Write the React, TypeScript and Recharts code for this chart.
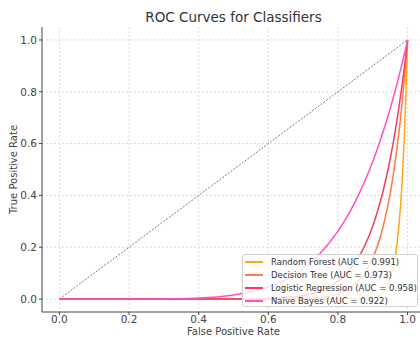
import React from 'react';
import { LineChart, Line, XAxis, YAxis, CartesianGrid, ReferenceLine, Label } from 'recharts';

const fpr = [0, 0.1, 0.2, 0.3, 0.4, 0.5, 0.55, 0.6, 0.65, 0.7, 0.75, 0.8, 0.825, 0.85, 0.875, 0.9, 0.92, 0.94, 0.95, 0.96, 0.97, 0.98, 0.985, 0.99, 0.995, 1];
const rfTpr = [0, 0, 0, 0, 0, 0, 0, 0, 0, 0, 0, 0, 0, 0.0003, 0.001, 0.005, 0.015, 0.045, 0.077, 0.13, 0.218, 0.364, 0.47, 0.605, 0.78, 1];
const dtTpr = [0, 0, 0, 0, 0, 0, 0, 0.0001, 0.0005, 0.002, 0.006, 0.02, 0.035, 0.058, 0.097, 0.158, 0.232, 0.339, 0.407, 0.49, 0.587, 0.702, 0.768, 0.838, 0.916, 1];
const lrTpr = [0, 0, 0, 0, 0, 0.0002, 0.0008, 0.002, 0.006, 0.014, 0.032, 0.069, 0.1, 0.142, 0.2, 0.282, 0.368, 0.476, 0.54, 0.613, 0.694, 0.785, 0.834, 0.886, 0.942, 1];
const nbTpr = [0, 0, 0, 0.001, 0.004, 0.016, 0.028, 0.047, 0.075, 0.118, 0.178, 0.262, 0.315, 0.377, 0.449, 0.531, 0.606, 0.69, 0.735, 0.783, 0.833, 0.886, 0.913, 0.941, 0.97, 1];

const seriesNames = ['Random Forest', 'Decision Tree', 'Logistic Regression', 'Naive Bayes'];
const seriesKeys = ['rf', 'dt', 'lr', 'nb'];
const aucValues = ['0.991', '0.973', '0.958', '0.922'];
const seriesColors = ['#ffa816', '#ff7b3e', '#f03f5c', '#ff4fc6'];

const ticks = [0, 0.2, 0.4, 0.6, 0.8, 1.0];
const diagonal = [{ x: 0, y: 0 }, { x: 1, y: 1 }];

const data = fpr.map((x, i) => ({ x, rf: rfTpr[i], dt: dtTpr[i], lr: lrTpr[i], nb: nbTpr[i] }));

const FONT = '"DejaVu Sans", sans-serif';
const fmt = (v: number) => v.toFixed(1);

export default function App() {
  return (
    <div style={{ position: 'absolute', left: 0, top: 0, width: 420, height: 337, overflow: 'hidden', background: '#fff', fontFamily: FONT }}>
      <div style={{ position: 'absolute', left: 0, width: 467, top: 8, textAlign: 'center', fontSize: 13.5, color: '#333', lineHeight: '18px' }}>
        ROC Curves for Classifiers
      </div>
      <LineChart width={440} height={337} data={data} margin={{ top: 27, right: 15, bottom: 0, left: 0 }}>
        <CartesianGrid stroke="#dcdcdc" strokeDasharray="2 2" horizontalValues={ticks} verticalValues={ticks} />
        <XAxis
          dataKey="x"
          type="number"
          domain={[-0.05, 1.05]}
          ticks={ticks}
          tickFormatter={fmt}
          height={25}
          tickSize={3}
          tickMargin={1}
          stroke="#444"
          tick={{ fill: '#444', fontSize: 10.5, fontFamily: FONT }}
          allowDataOverflow
        >
          <Label
            content={(p: any) => {
              const vb = p.viewBox;
              return (
                <text x={vb.x + vb.width / 2} y={335} textAnchor="middle" fontSize={10} fill="#444" fontFamily={FONT}>
                  False Positive Rate
                </text>
              );
            }}
          />
        </XAxis>
        <YAxis
          type="number"
          domain={[-0.05, 1.05]}
          ticks={ticks}
          tickFormatter={fmt}
          width={42}
          tickSize={3}
          tickMargin={2}
          stroke="#444"
          tick={{ fill: '#444', fontSize: 10.5, fontFamily: FONT }}
          allowDataOverflow
        >
          <Label
            content={(p: any) => {
              const vb = p.viewBox;
              const cy = vb.y + vb.height / 2;
              return (
                <text x={17} y={cy} transform={`rotate(-90, 17, ${cy})`} textAnchor="middle" fontSize={10} fill="#444" fontFamily={FONT}>
                  True Positive Rate
                </text>
              );
            }}
          />
        </YAxis>
        <ReferenceLine segment={diagonal} stroke="#555" strokeWidth={0.8} strokeDasharray="2 1.5" ifOverflow="visible" />
        {seriesKeys.map((k, i) => (
          <Line key={k} type="monotone" dataKey={k} stroke={seriesColors[i]} strokeWidth={1.5} dot={false} isAnimationActive={false} />
        ))}
      </LineChart>
      <div
        style={{
          position: 'absolute',
          left: 242,
          top: 254,
          width: 176,
          height: 53,
          boxSizing: 'border-box',
          background: 'rgba(255,255,255,0.8)',
          border: '1px solid #d0d0d0',
          borderRadius: 3,
          paddingTop: 0,
        }}
      >
        {seriesNames.map((n, i) => (
          <div key={n} style={{ display: 'flex', alignItems: 'center', height: 13 }}>
            <div style={{ marginLeft: 2, width: 18, height: 2, background: seriesColors[i] }} />
            <div style={{ marginLeft: 8, fontSize: 8.5, color: '#333', whiteSpace: 'nowrap' }}>
              {n} (AUC = {aucValues[i]})
            </div>
          </div>
        ))}
      </div>
    </div>
  );
}
